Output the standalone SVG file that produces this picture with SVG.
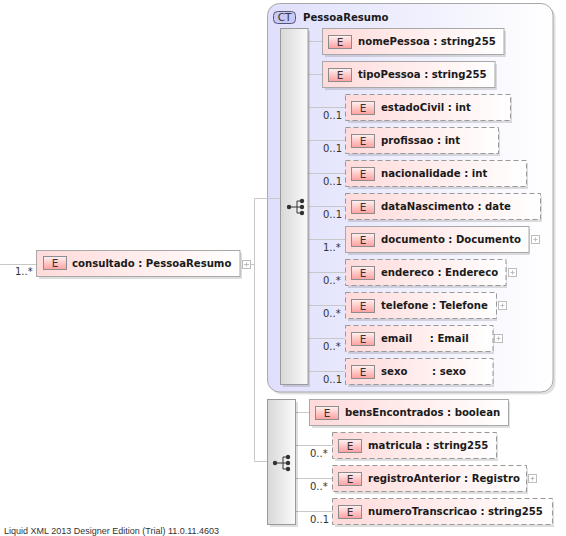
<svg xmlns="http://www.w3.org/2000/svg" xmlns:xlink="http://www.w3.org/1999/xlink" width="566" height="536" viewBox="0 0 566 536">
<style>
text{font-family:"DejaVu Sans",sans-serif}
.n{font-size:10.15px;font-weight:bold;fill:#1a1a1a}
.o{font-size:10px;fill:#333;font-family:"DejaVu Sans",sans-serif}
.box{fill:url(#el);stroke:#a8a8a8;stroke-width:1}
.opt{fill:url(#el);stroke:#999;stroke-width:1;stroke-dasharray:5 3}
.shadow{fill:#000;opacity:.13}
.c{fill:none;stroke:#c8c8c8;stroke-width:1}
.seq{fill:url(#sq);stroke:#9a9a9a;stroke-width:1}
.pm{fill:#fff;stroke:#bdbdbd;stroke-width:1}
.pml{stroke:#bdbdbd;stroke-width:1}
</style>
<defs>
<linearGradient id="el" x1="0" y1="0" x2="1" y2="0"><stop offset="0" stop-color="#ffdada"/><stop offset="1" stop-color="#ffffff"/></linearGradient>
<linearGradient id="ct" x1="0" y1="0" x2="1" y2="0"><stop offset="0" stop-color="#dfdffc"/><stop offset="1" stop-color="#ffffff"/></linearGradient>
<linearGradient id="sq" x1="0" y1="0" x2="1" y2="0"><stop offset="0" stop-color="#d8d8d8"/><stop offset="1" stop-color="#fafafa"/></linearGradient>
<linearGradient id="bd" x1="0" y1="0" x2="0" y2="1"><stop offset="0" stop-color="#fff2f2"/><stop offset="1" stop-color="#ff9f9f"/></linearGradient>
<g id="e"><rect x="0.5" y="0.5" width="23" height="13" fill="url(#bd)" stroke="#8c8c8c"/><text x="12" y="11" text-anchor="middle" style="font-size:10.5px;fill:#333">E</text></g>
<g id="icon" fill="#333" stroke="none"><circle cx="-8" cy="0" r="2.2"/><circle cx="5" cy="-6" r="2.2"/><circle cx="5" cy="0" r="2.2"/><circle cx="5" cy="6" r="2.2"/><path d="M-8 0H0M0-6V6M0-6H5M0 0H5M0 6H5" fill="none" stroke="#333"/></g>
<g id="plus"><rect x="0.5" y="0.5" width="8" height="8" class="pm"/><path d="M2.500 4.500H6.500M4.500 2.500V6.500" class="pml"/></g>
</defs>
<rect width="566" height="536" fill="#fff"/>
<g id="ct-pessoaresumo">
<rect x="270" y="6" width="285.5" height="388.5" rx="12" fill="#000" opacity=".12"/>
<rect x="267.5" y="3.5" width="285.5" height="388.5" rx="12" fill="url(#ct)" stroke="#a8a8a8"/>
<rect x="273.5" y="11.5" width="22" height="12" rx="4" fill="#c9c9f5" stroke="#55557a"/>
<text x="284.5" y="21" text-anchor="middle" style="font-size:10.5px;fill:#333">CT</text>
<text class="n" x="303" y="21">PessoaResumo</text>
</g>
<g id="connectors">
<path class="c" d="M0 264.500H36M250 264.500H254.500M254.500 198.500V461.500M254.500 198.500H280M254.500 461.500H267"/>
<path class="c" d="M308 41.500H323M308 74.500H323M308 107.500H345M308 140.500H345M308 173.500H345M308 206.500H345M308 239.500H345M308 272.500H345M308 305.500H345M308 338.500H345M308 371.500H345"/>
<path class="c" d="M296 412.500H310M296 445.500H333M296 478.500H333M296 511.500H333"/>
</g>
<g id="seq1"><rect x="283" y="31" width="27" height="356" class="shadow"/><rect x="280.500" y="28.500" width="27.500" height="356" class="seq"/><use xlink:href="#icon" href="#icon" x="297" y="207"/></g>
<g id="seq2"><rect x="270" y="402" width="28" height="125" class="shadow"/><rect x="267.500" y="399.500" width="28" height="125" class="seq"/><use xlink:href="#icon" href="#icon" x="283" y="463"/></g>
<g id="consultado"><rect x="39" y="253" width="203" height="26" class="shadow"/><rect x="36.500" y="250.500" width="203.500" height="26" class="box"/><use xlink:href="#e" href="#e" x="43" y="256"/><text class="n" x="72" y="267">consultado : PessoaResumo</text><text class="o" x="15" y="275">1..*</text><use xlink:href="#plus" href="#plus" x="242" y="260"/><path d="M244 264.500H249" class="pml"/></g>
<g id="nomePessoa"><rect x="325" y="31" width="181" height="26" class="shadow"/><rect x="322.500" y="28.500" width="181.500" height="26" class="box"/><use xlink:href="#e" href="#e" x="328" y="35"/><text class="n" x="358" y="45">nomePessoa : string255</text></g>
<g id="tipoPessoa"><rect x="325" y="64" width="172" height="26" class="shadow"/><rect x="322.500" y="61.500" width="172.500" height="26" class="box"/><use xlink:href="#e" href="#e" x="328" y="68"/><text class="n" x="358" y="78">tipoPessoa : string255</text></g>
<g id="estadoCivil"><rect x="348" y="97" width="164" height="26" class="shadow"/><rect x="345.500" y="94.500" width="165" height="26" class="opt"/><use xlink:href="#e" href="#e" x="351" y="101"/><text class="n" x="381" y="111">estadoCivil : int</text><text class="o" x="323" y="119">0..1</text></g>
<g id="profissao"><rect x="348" y="130" width="152" height="26" class="shadow"/><rect x="345.500" y="127.500" width="153" height="26" class="opt"/><use xlink:href="#e" href="#e" x="351" y="134"/><text class="n" x="381" y="144">profissao : int</text><text class="o" x="323" y="152">0..1</text></g>
<g id="nacionalidade"><rect x="348" y="163" width="180" height="26" class="shadow"/><rect x="345.500" y="160.500" width="181" height="26" class="opt"/><use xlink:href="#e" href="#e" x="351" y="167"/><text class="n" x="381" y="177">nacionalidade : int</text><text class="o" x="323" y="185">0..1</text></g>
<g id="dataNascimento"><rect x="348" y="196" width="194" height="26" class="shadow"/><rect x="345.500" y="193.500" width="195" height="26" class="opt"/><use xlink:href="#e" href="#e" x="351" y="200"/><text class="n" x="381" y="210">dataNascimento : date</text><text class="o" x="323" y="218">0..1</text></g>
<g id="documento"><rect x="348" y="229" width="182" height="26" class="shadow"/><rect x="345.500" y="226.500" width="183.500" height="26" class="box"/><use xlink:href="#e" href="#e" x="351" y="233"/><text class="n" x="381" y="243">documento : Documento</text><text class="o" x="323" y="251">1..*</text><use xlink:href="#plus" href="#plus" x="531" y="235"/></g>
<g id="endereco"><rect x="348" y="262" width="159" height="26" class="shadow"/><rect x="345.500" y="259.500" width="160.500" height="26" class="opt"/><use xlink:href="#e" href="#e" x="351" y="266"/><text class="n" x="381" y="276">endereco : Endereco</text><text class="o" x="323" y="284">0..*</text><use xlink:href="#plus" href="#plus" x="508" y="268"/></g>
<g id="telefone"><rect x="348" y="295" width="149" height="26" class="shadow"/><rect x="345.500" y="292.500" width="151" height="26" class="opt"/><use xlink:href="#e" href="#e" x="351" y="299"/><text class="n" x="381" y="309">telefone : Telefone</text><text class="o" x="323" y="317">0..*</text><use xlink:href="#plus" href="#plus" x="498" y="301"/></g>
<g id="email"><rect x="348" y="328" width="146" height="26" class="shadow"/><rect x="345.500" y="325.500" width="147.500" height="26" class="opt"/><use xlink:href="#e" href="#e" x="351" y="332"/><text class="n" x="381" y="342" xml:space="preserve">email     : Email</text><text class="o" x="323" y="350">0..*</text><use xlink:href="#plus" href="#plus" x="494" y="334"/></g>
<g id="sexo"><rect x="348" y="361" width="146" height="26" class="shadow"/><rect x="345.500" y="358.500" width="147.500" height="26" class="opt"/><use xlink:href="#e" href="#e" x="351" y="365"/><text class="n" x="381" y="375" xml:space="preserve">sexo       : sexo</text><text class="o" x="323" y="383">0..1</text></g>
<g id="bensEncontrados"><rect x="312" y="402" width="198" height="26" class="shadow"/><rect x="309.500" y="399.500" width="199" height="26" class="box"/><use xlink:href="#e" href="#e" x="315" y="406"/><text class="n" x="345" y="416">bensEncontrados : boolean</text></g>
<g id="matricula"><rect x="335" y="435" width="163" height="26" class="shadow"/><rect x="332.500" y="432.500" width="164" height="26" class="opt"/><use xlink:href="#e" href="#e" x="338" y="439"/><text class="n" x="368" y="449">matricula : string255</text><text class="o" x="310" y="457">0..*</text></g>
<g id="registroAnterior"><rect x="335" y="468" width="193" height="26" class="shadow"/><rect x="332.500" y="465.500" width="194" height="26" class="opt"/><use xlink:href="#e" href="#e" x="338" y="472"/><text class="n" x="368" y="482">registroAnterior : Registro</text><text class="o" x="310" y="490">0..*</text><use xlink:href="#plus" href="#plus" x="528" y="474"/></g>
<g id="numeroTranscricao"><rect x="335" y="501" width="219" height="26" class="shadow"/><rect x="332.500" y="498.500" width="220" height="26" class="opt"/><use xlink:href="#e" href="#e" x="338" y="505"/><text class="n" x="368" y="515">numeroTranscricao : string255</text><text class="o" x="310" y="523">0..1</text></g>
<text x="4" y="534" style="font-family:'Liberation Sans',sans-serif;font-size:9px;fill:#333">Liquid XML 2013 Designer Edition (Trial) 11.0.11.4603</text>
</svg>
